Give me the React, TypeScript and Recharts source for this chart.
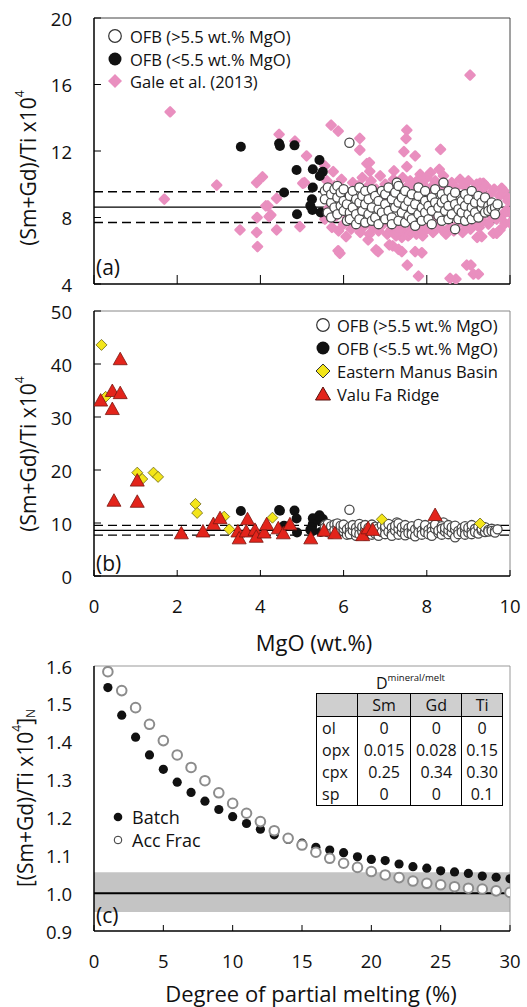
import { ScatterChart, Scatter, XAxis, YAxis, ReferenceLine, ReferenceArea } from "recharts"

const FONT = '"Open Sans", sans-serif'

// OFB samples, [MgO wt.%, (Sm+Gd)/Ti x10^4]
const ofbHigh: [number, number][] = [
  [6.14, 12.5], [7.28, 10.1], [8.4, 10.1],
  [5.55, 9.6], [5.55, 9.1], [5.62, 8.3], [5.62, 9.8], [5.7, 8.9], [5.7, 9.4], [5.7, 8.0],
  [5.78, 9.7], [5.78, 8.6], [5.85, 9.2], [5.85, 8.2], [5.85, 9.9], [5.93, 8.7], [5.93, 9.5],
  [6.0, 8.4], [6.0, 9.0], [6.0, 9.7], [6.08, 7.8], [6.08, 8.8], [6.15, 9.3], [6.15, 8.3], [6.15, 7.9],
  [6.22, 8.6], [6.22, 9.6], [6.3, 7.6], [6.3, 9.1], [6.3, 8.2], [6.38, 8.9], [6.38, 9.8], [6.38, 7.9],
  [6.45, 8.4], [6.45, 9.3], [6.52, 7.7], [6.52, 8.8], [6.52, 9.6], [6.6, 8.2], [6.6, 9.1],
  [6.68, 8.6], [6.68, 9.7], [6.68, 7.8], [6.76, 9.3], [6.76, 8.0], [6.84, 8.5], [6.84, 9.0], [6.84, 7.6],
  [6.92, 9.6], [6.92, 8.3], [7.0, 8.8], [7.0, 7.9], [7.0, 9.4], [7.08, 8.4], [7.08, 9.8],
  [7.16, 9.1], [7.16, 8.0], [7.16, 7.6], [7.24, 8.6], [7.24, 9.5], [7.32, 7.8], [7.32, 8.9], [7.32, 9.9],
  [7.4, 8.3], [7.4, 9.2], [7.48, 8.7], [7.48, 7.7], [7.48, 9.6], [7.56, 9.0], [7.56, 8.1],
  [7.64, 8.5], [7.64, 9.4], [7.64, 7.9], [7.72, 8.8], [7.72, 7.5], [7.8, 9.3], [7.8, 8.2], [7.8, 9.8],
  [7.88, 8.6], [7.88, 7.8], [7.96, 9.0], [7.96, 8.3], [7.96, 9.6], [8.04, 8.7], [8.04, 7.9],
  [8.12, 9.2], [8.12, 8.4], [8.12, 7.6], [8.2, 8.9], [8.2, 9.7], [8.28, 8.1], [8.28, 8.6],
  [8.36, 9.4], [8.36, 7.8], [8.36, 8.9], [8.44, 8.4], [8.44, 9.1], [8.52, 7.9], [8.52, 8.7], [8.52, 9.6],
  [8.6, 8.2], [8.6, 9.2], [8.68, 7.3], [8.68, 8.8], [8.68, 9.5], [8.76, 8.5], [8.76, 7.9],
  [8.84, 9.0], [8.84, 8.3], [8.92, 8.7], [8.92, 9.4], [8.92, 7.8], [9.0, 8.2], [9.0, 9.1],
  [9.08, 8.6], [9.08, 9.6], [9.08, 7.9], [9.16, 8.9], [9.16, 8.3], [9.24, 9.3], [9.24, 8.0],
  [9.32, 8.6], [9.32, 8.9], [9.4, 8.3], [9.4, 9.2], [9.48, 8.7], [9.48, 8.4], [9.56, 8.9], [9.56, 8.5],
  [9.64, 8.6], [9.64, 8.2], [9.7, 8.8],
]

const ofbLow: [number, number][] = [
  [3.53, 12.26], [4.45, 12.45], [4.47, 12.3], [4.82, 12.34], [5.42, 11.46], [4.87, 10.86],
  [5.26, 10.9], [5.5, 10.75], [5.43, 10.5], [4.57, 9.5], [5.26, 9.8], [5.24, 9.1],
  [5.2, 8.7], [5.25, 8.45], [4.88, 8.2], [5.45, 8.3],
]

// Gale et al. (2013)
const gale: [number, number][] = [
  [1.83, 14.36], [1.69, 9.1], [2.95, 9.95], [3.91, 10.1], [4.05, 10.45], [4.45, 13.0], [4.83, 12.6],
  [4.13, 8.7], [4.21, 8.05], [3.92, 8.0], [3.51, 7.25], [3.91, 7.1], [4.39, 7.25], [3.93, 6.25],
  [4.95, 7.45], [5.11, 11.7], [5.02, 10.06], [4.39, 9.15], [4.18, 8.7], [4.25, 8.15], [5.06, 10.1],
  [5.7, 13.56], [5.87, 13.2], [6.39, 12.76], [6.39, 12.06], [6.56, 11.24], [6.62, 11.3], [6.63, 10.78],
  [7.21, 10.8], [7.52, 13.26], [7.5, 12.75], [7.45, 11.96], [7.72, 11.7], [8.33, 12.1], [7.52, 11.06],
  [7.84, 10.6], [8.09, 10.7], [8.3, 10.9], [5.75, 10.76], [5.55, 11.1], [9.04, 16.57],
  [5.91, 5.85], [6.06, 6.85], [6.59, 6.65], [6.83, 5.95], [7.18, 6.29], [7.4, 5.95], [7.53, 5.14],
  [7.88, 5.88], [7.8, 4.48], [8.7, 4.3], [8.56, 4.34], [8.96, 5.14], [9.12, 4.6], [9.06, 5.14],
  [9.24, 4.6], [9.32, 6.85], [9.21, 6.8], [9.6, 7.05], [9.68, 7.05], [9.76, 7.25], [10.0, 7.67],
  [9.92, 9.25], [9.96, 9.1], [9.88, 7.65], [9.96, 8.35], [9.36, 10.06], [9.28, 10.06], [9.8, 9.76],
  [7.72, 5.95], [7.32, 6.08], [7.1, 6.35], [6.78, 6.05], [5.87, 6.0],
  [5.55, 7.9], [5.6, 10.2], [5.65, 8.6], [5.72, 7.4], [5.78, 9.9], [5.82, 8.1], [5.88, 7.2],
  [5.95, 10.3], [6.0, 7.6], [6.05, 9.6], [6.1, 8.0], [6.18, 7.3], [6.22, 10.1], [6.28, 7.7],
  [6.35, 9.9], [6.4, 7.1], [6.45, 10.4], [6.5, 7.5], [6.55, 9.8], [6.62, 7.0], [6.66, 10.2],
  [6.72, 7.4], [6.78, 9.7], [6.84, 7.2], [6.88, 10.5], [6.95, 7.6], [7.0, 10.0], [7.05, 7.0],
  [7.1, 9.7], [7.15, 7.3], [7.2, 10.3], [7.26, 6.9], [7.3, 9.9], [7.36, 7.4], [7.42, 10.4],
  [7.46, 7.1], [7.5, 9.8], [7.55, 6.9], [7.6, 10.2], [7.64, 7.3], [7.7, 9.9], [7.75, 7.0],
  [7.8, 10.3], [7.85, 7.5], [7.9, 10.0], [7.95, 7.2], [8.0, 10.4], [8.05, 7.4], [8.1, 9.8],
  [8.15, 7.1], [8.2, 10.2], [8.25, 7.6], [8.3, 9.9], [8.35, 7.3], [8.4, 10.5], [8.46, 7.0],
  [8.5, 9.7], [8.55, 7.4], [8.6, 10.1], [8.65, 7.2], [8.7, 9.8], [8.75, 7.6], [8.8, 10.3],
  [8.86, 7.1], [8.9, 9.9], [8.95, 7.5], [9.0, 10.2], [9.05, 7.3], [9.1, 9.6], [9.15, 7.7],
  [9.2, 10.0], [9.26, 7.4], [9.3, 9.5], [9.35, 7.8], [9.42, 9.9], [9.48, 7.6], [9.52, 9.4],
  [9.58, 8.0], [9.62, 9.7], [9.68, 7.9], [9.75, 9.3], [9.8, 8.1], [9.85, 9.6], [9.9, 8.4], [9.95, 9.0],
  [6.3, 8.5], [7.0, 8.9], [7.8, 8.4], [8.5, 8.8], [9.2, 8.6], [6.8, 9.2], [7.5, 8.2], [8.2, 8.0],
  [8.9, 8.4], [7.4, 6.8], [7.6, 7.0], [7.3, 7.2], [7.9, 6.9],
]

const manus: [number, number][] = [
  [0.18, 43.6], [0.28, 33.8], [1.04, 19.5], [1.16, 18.3], [1.43, 19.5], [1.54, 18.7],
  [2.44, 13.6], [2.48, 11.9], [3.13, 11.2], [3.25, 8.8], [4.29, 11.0], [6.92, 10.7], [9.28, 9.9],
]

const valuFa: [number, number][] = [
  [0.63, 40.9], [0.16, 33.1], [0.44, 34.9], [0.63, 34.5], [0.44, 31.5], [0.48, 14.2], [1.04, 14.0],
  [1.04, 18.0], [2.1, 8.05], [2.62, 8.4], [2.87, 9.8], [3.03, 10.9], [3.46, 8.4], [3.49, 7.1],
  [3.69, 10.7], [3.66, 8.4], [3.87, 8.7], [3.9, 7.4], [4.09, 8.2], [4.15, 9.75], [4.43, 9.0],
  [4.55, 8.05], [4.71, 9.75], [5.21, 7.1], [5.53, 8.55], [5.79, 8.05], [6.46, 7.7], [6.59, 9.0],
  [6.7, 8.7], [8.2, 11.5],
]

// OFB mean and 1 sd
const ofbMean = 8.62
const ofbSd = [7.7, 9.55]

// panel (c): melting models
const meltF = [1, 2, 3, 4, 5, 6, 7, 8, 9, 10, 11, 12, 13, 14, 15, 16, 17, 18, 19, 20, 21, 22, 23, 24, 25, 26, 27, 28, 29, 30]
const batch = [1.543, 1.47, 1.412, 1.365, 1.327, 1.293, 1.266, 1.243, 1.221, 1.202, 1.184, 1.169, 1.154, 1.142, 1.132,
  1.121, 1.114, 1.107, 1.096, 1.089, 1.086, 1.077, 1.07, 1.066, 1.059, 1.056, 1.052, 1.045, 1.042, 1.038]
const accFrac = [1.585, 1.535, 1.49, 1.446, 1.403, 1.365, 1.332, 1.297, 1.265, 1.237, 1.211, 1.189, 1.165, 1.145, 1.127,
  1.108, 1.092, 1.079, 1.068, 1.057, 1.048, 1.041, 1.032, 1.026, 1.022, 1.017, 1.013, 1.011, 1.006, 1.002]

const minerals = ["ol", "opx", "cpx", "sp"]
const dSm = ["0", "0.015", "0.25", "0"]
const dGd = ["0", "0.028", "0.34", "0"]
const dTi = ["0", "0.15", "0.30", "0.1"]

const pts = (a: [number, number][]) => a.map(([x, y]) => ({ x, y }))
const batchPts = meltF.map((f, i) => ({ x: f, y: batch[i] }))
const accPts = meltF.map((f, i) => ({ x: f, y: accFrac[i] }))

const PINK = "#e98fbf"
const YELLOW = "#f3e51a"
const RED = "#e3241b"

const whiteDot = (p: any) => <circle cx={p.cx} cy={p.cy} r={4.6} fill="#fff" stroke="#4a4a4a" strokeWidth={1.3} />
const blackDot = (p: any) => <circle cx={p.cx} cy={p.cy} r={5} fill="#111" />
const pinkDiamond = (p: any) => (
  <polygon points={`${p.cx},${p.cy - 4.5} ${p.cx + 4.5},${p.cy} ${p.cx},${p.cy + 4.5} ${p.cx - 4.5},${p.cy}`}
    fill={PINK} stroke={PINK} strokeWidth={2.5} strokeLinejoin="round" />
)
const yellowDiamond = (p: any) => <polygon points={`${p.cx},${p.cy - 5.5} ${p.cx + 5.5},${p.cy} ${p.cx},${p.cy + 5.5} ${p.cx - 5.5},${p.cy}`} fill={YELLOW} stroke="#6b6414" strokeWidth={0.8} />
const redTri = (p: any) => <polygon points={`${p.cx},${p.cy - 7} ${p.cx + 7},${p.cy + 5.5} ${p.cx - 7},${p.cy + 5.5}`} fill={RED} stroke="#7a1710" strokeWidth={0.8} />
const batchDot = (p: any) => <circle cx={p.cx} cy={p.cy} r={4.6} fill="#111" />
const accDot = (p: any) => <circle cx={p.cx} cy={p.cy} r={4.8} fill="#fff" stroke="#8c8c8c" strokeWidth={2} />

const yTick = (len: number, fmt: (v: number) => string) => (p: any) => (
  <g>
    {len > 0 && <line x1={p.x} x2={p.x + len} y1={p.y} y2={p.y} stroke="#000" />}
    <text x={p.x - 22} y={p.y} textAnchor="end" dominantBaseline="central" fontSize={18.5} fontFamily={FONT} fill="#111">{fmt(p.payload.value)}</text>
  </g>
)
const xTick = (len: number, label: boolean) => (p: any) => (
  <g>
    {len > 0 && <line x1={p.x} x2={p.x} y1={p.y} y2={p.y - len} stroke="#000" />}
    {label && <text x={p.x} y={p.y + 29} textAnchor="middle" dominantBaseline="central" fontSize={18.5} fontFamily={FONT} fill="#111">{p.payload.value}</text>}
  </g>
)

const axisCommon = { tickSize: 0, tickMargin: 0, interval: 0 as const, allowDataOverflow: true }

const PanelA = () => (
  <ScatterChart width={527} height={300} margin={{ top: 18, right: 17, bottom: 0, left: 0 }}>
    <XAxis type="number" dataKey="x" domain={[0, 10]} ticks={[0, 2, 4, 6, 8, 10]} height={16} {...axisCommon}
      axisLine={{ stroke: "#000", strokeWidth: 1.5 }} tick={xTick(9, false)} />
    <YAxis type="number" dataKey="y" domain={[4, 20]} ticks={[4, 8, 12, 16, 20]} width={94} {...axisCommon}
      axisLine={{ stroke: "#000", strokeWidth: 1.5 }} tick={yTick(7, v => String(v))} />
    <ReferenceLine y={20} stroke="#444" />
    <ReferenceLine x={10} stroke="#444" />
    <ReferenceLine y={ofbMean} stroke="#000" strokeWidth={1.3} />
    <ReferenceLine y={ofbSd[0]} stroke="#000" strokeWidth={1.3} strokeDasharray="9 5" />
    <ReferenceLine y={ofbSd[1]} stroke="#000" strokeWidth={1.3} strokeDasharray="9 5" />
    <Scatter data={pts(gale)} shape={pinkDiamond} isAnimationActive={false} />
    <Scatter data={pts(ofbLow)} shape={blackDot} isAnimationActive={false} />
    <Scatter data={pts(ofbHigh)} shape={whiteDot} isAnimationActive={false} />
  </ScatterChart>
)

const PanelB = () => (
  <ScatterChart width={527} height={355} margin={{ top: 11, right: 17, bottom: 0, left: 0 }}>
    <XAxis type="number" dataKey="x" domain={[0, 10]} ticks={[0, 2, 4, 6, 8, 10]} height={79} {...axisCommon}
      axisLine={{ stroke: "#000", strokeWidth: 1.5 }} tick={xTick(6, true)} />
    <YAxis type="number" dataKey="y" domain={[0, 50]} ticks={[0, 10, 20, 30, 40, 50]} width={94} {...axisCommon}
      axisLine={{ stroke: "#000", strokeWidth: 1.5 }} tick={yTick(7, v => String(v))} />
    <ReferenceLine y={50} stroke="#888" />
    <ReferenceLine x={10} stroke="#888" />
    <ReferenceLine y={ofbMean} stroke="#000" strokeWidth={1.3} />
    <ReferenceLine y={ofbSd[0]} stroke="#000" strokeWidth={1.3} strokeDasharray="9 5" />
    <ReferenceLine y={ofbSd[1]} stroke="#000" strokeWidth={1.3} strokeDasharray="9 5" />
    <Scatter data={pts(ofbLow)} shape={blackDot} isAnimationActive={false} />
    <Scatter data={pts(ofbHigh)} shape={whiteDot} isAnimationActive={false} />
    <Scatter data={pts(manus)} shape={yellowDiamond} isAnimationActive={false} />
    <Scatter data={pts(valuFa)} shape={redTri} isAnimationActive={false} />
  </ScatterChart>
)

const PanelC = () => (
  <ScatterChart width={527} height={352} margin={{ top: 11, right: 17, bottom: 0, left: 0 }}>
    <XAxis type="number" dataKey="x" domain={[0, 30]} ticks={[0, 5, 10, 15, 20, 25, 30]} height={76} {...axisCommon}
      axisLine={{ stroke: "#000", strokeWidth: 1.5 }} tick={xTick(6, true)} />
    <YAxis type="number" dataKey="y" domain={[0.9, 1.6]} ticks={[0.9, 1.0, 1.1, 1.2, 1.3, 1.4, 1.5, 1.6]} width={94} {...axisCommon}
      axisLine={{ stroke: "#000", strokeWidth: 1.5 }} tick={yTick(0, v => v.toFixed(1))} />
    <ReferenceArea y1={0.95} y2={1.055} fill="#c4c4c4" fillOpacity={1} stroke="none" />
    <ReferenceLine y={1.0} stroke="#000" strokeWidth={2} />
    <ReferenceLine y={1.6} stroke="#999" />
    <ReferenceLine x={30} stroke="#999" />
    <Scatter data={batchPts} shape={batchDot} isAnimationActive={false} />
    <Scatter data={accPts} shape={accDot} isAnimationActive={false} />
  </ScatterChart>
)

const T = { fontFamily: FONT, fill: "#111" }

const Overlay = () => (
  <svg width={527} height={1007} style={{ position: "absolute", left: 0, top: 0, pointerEvents: "none" }}>
    {/* y titles */}
    <text {...T} fontSize={21} textAnchor="middle" dominantBaseline="central" transform="translate(28,168) rotate(-90)">
      (Sm+Gd)/Ti x10<tspan fontSize={12} dy={-9}>4</tspan>
    </text>
    <text {...T} fontSize={21} textAnchor="middle" dominantBaseline="central" transform="translate(28,454) rotate(-90)">
      (Sm+Gd)/Ti x10<tspan fontSize={12} dy={-9}>4</tspan>
    </text>
    <text {...T} fontSize={21} textAnchor="middle" dominantBaseline="central" transform="translate(25,798) rotate(-90)">
      [(Sm+Gd)/Ti x10<tspan fontSize={12} dy={-9}>4</tspan><tspan dy={9}>]</tspan><tspan fontSize={12} dy={5}>N</tspan>
    </text>
    <text {...T} fontSize={22} x={314} y={642} textAnchor="middle" dominantBaseline="central">MgO (wt.%)</text>
    <text {...T} fontSize={22} x={311} y={993} textAnchor="middle" dominantBaseline="central">Degree of partial melting (%)</text>
    <text {...T} fontSize={21} x={96} y={267} dominantBaseline="central">(a)</text>
    <text {...T} fontSize={21} x={96} y={563} dominantBaseline="central">(b)</text>
    <text {...T} fontSize={21} x={96} y={915} dominantBaseline="central">(c)</text>

    {/* legend a */}
    <circle cx={115} cy={36} r={6.3} fill="#fff" stroke="#333" strokeWidth={1.2} />
    <circle cx={115} cy={59} r={6.5} fill="#111" />
    <polygon points="115,74 122,81 115,88 108,81" fill={PINK} />
    <text {...T} fontSize={16.5} x={130} y={36} dominantBaseline="central">OFB (&gt;5.5 wt.% MgO)</text>
    <text {...T} fontSize={16.5} x={130} y={59} dominantBaseline="central">OFB (&lt;5.5 wt.% MgO)</text>
    <text {...T} fontSize={16.5} x={130} y={81} dominantBaseline="central">Gale et al. (2013)</text>

    {/* legend b */}
    <circle cx={323} cy={325} r={6.3} fill="#fff" stroke="#333" strokeWidth={1.2} />
    <circle cx={323} cy={348} r={6.5} fill="#111" />
    <polygon points="323,364 330,371 323,378 316,371" fill={YELLOW} stroke="#333" strokeWidth={1} />
    <polygon points="323,387 330.5,400 315.5,400" fill={RED} stroke="#5a110c" strokeWidth={1} />
    <text {...T} fontSize={16.5} x={337} y={325} dominantBaseline="central">OFB (&gt;5.5 wt.% MgO)</text>
    <text {...T} fontSize={16.5} x={337} y={348} dominantBaseline="central">OFB (&lt;5.5 wt.% MgO)</text>
    <text {...T} fontSize={16.5} x={337} y={371} dominantBaseline="central">Eastern Manus Basin</text>
    <text {...T} fontSize={16.5} x={337} y={394} dominantBaseline="central">Valu Fa Ridge</text>

    {/* legend c */}
    <circle cx={118} cy={817} r={4.3} fill="#111" />
    <circle cx={118} cy={840} r={3.8} fill="#fff" stroke="#333" strokeWidth={1} />
    <text {...T} fontSize={18} x={132} y={817} dominantBaseline="central">Batch</text>
    <text {...T} fontSize={18} x={132} y={840} dominantBaseline="central">Acc Frac</text>

    <text {...T} fontSize={16} x={376} y={683} dominantBaseline="central">
      D<tspan fontSize={9.5} dy={-6}>mineral/melt</tspan>
    </text>
  </svg>
)

const cell: React.CSSProperties = { padding: 0, textAlign: "center", borderLeft: "1px solid #000", height: 22 }

const DTable = () => (
  <table style={{
    position: "absolute", left: 316, top: 693, width: 187, borderCollapse: "collapse",
    border: "1px solid #000", fontFamily: FONT, fontSize: 16, color: "#111", lineHeight: "22px",
  }}>
    <colgroup>
      <col style={{ width: 41 }} /><col style={{ width: 54 }} /><col style={{ width: 51 }} /><col style={{ width: 41 }} />
    </colgroup>
    <thead>
      <tr style={{ background: "#cfcfcf", borderBottom: "1px solid #000" }}>
        <th style={{ ...cell, borderLeft: "none" }}></th>
        <th style={{ ...cell, fontWeight: 400 }}>Sm</th>
        <th style={{ ...cell, fontWeight: 400 }}>Gd</th>
        <th style={{ ...cell, fontWeight: 400 }}>Ti</th>
      </tr>
    </thead>
    <tbody>
      {minerals.map((m, i) => (
        <tr key={m}>
          <td style={{ ...cell, borderLeft: "none", textAlign: "left", paddingLeft: 5 }}>{m}</td>
          <td style={cell}>{dSm[i]}</td>
          <td style={cell}>{dGd[i]}</td>
          <td style={cell}>{dTi[i]}</td>
        </tr>
      ))}
    </tbody>
  </table>
)

export default function App() {
  return (
    <div style={{ position: "absolute", left: 0, top: 0, width: 527, height: 1007, background: "#fff", fontFamily: FONT }}>
      <div style={{ position: "absolute", left: 0, top: 0 }}><PanelA /></div>
      <div style={{ position: "absolute", left: 0, top: 300 }}><PanelB /></div>
      <div style={{ position: "absolute", left: 0, top: 655 }}><PanelC /></div>
      <Overlay />
      <DTable />
    </div>
  )
}
